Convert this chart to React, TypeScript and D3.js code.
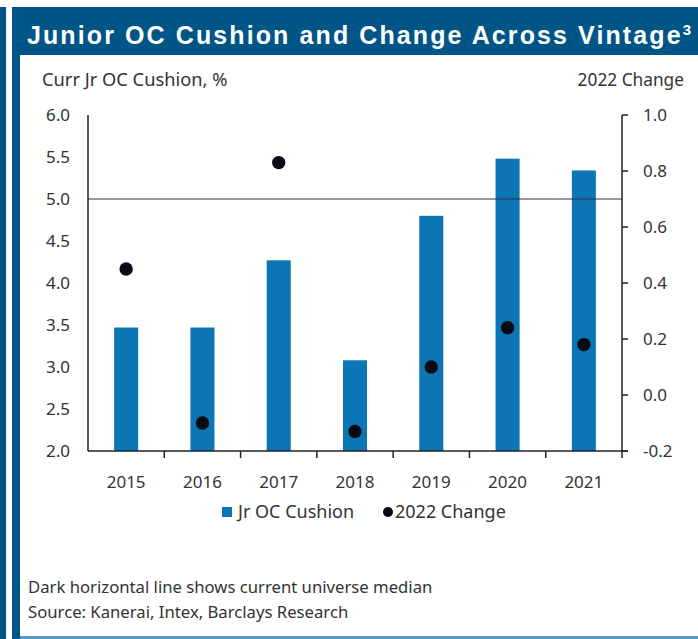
import React from "react";
import * as d3 from "d3";

const years = ["2015", "2016", "2017", "2018", "2019", "2020", "2021"];
const cushion = [3.47, 3.47, 4.27, 3.08, 4.8, 5.48, 5.34];
const change2022 = [0.45, -0.1, 0.83, -0.13, 0.1, 0.24, 0.18];
const median = 5.0;
const leftTicks = [2.0, 2.5, 3.0, 3.5, 4.0, 4.5, 5.0, 5.5, 6.0];
const rightTicks = [-0.2, 0.0, 0.2, 0.4, 0.6, 0.8, 1.0];

const W = 698;
const H = 639;
const BLUE = "#005587";
const BAR = "#0b75b5";
const TXT = "#333";
const FONT = "'Noto Sans', sans-serif";

export default function App() {
  const left = 88;
  const right = 622;
  const top = 115;
  const bottom = 451;

  const x = d3
    .scaleBand<string>()
    .domain(years)
    .range([left, right])
    .paddingInner(0.685)
    .paddingOuter(0.3425);
  const yL = d3.scaleLinear().domain([2, 6]).range([bottom, top]);
  const yR = d3.scaleLinear().domain([-0.2, 1.0]).range([bottom, top]);
  const step = x.step();
  const bw = x.bandwidth();
  const fmt = (v: number) => d3.format(".1f")(v).replace("\u2212", "-");

  const boundaries = years.slice(0, -1).map((y) => (x(y) as number) + bw / 2 + step / 2);

  return (
    <svg
      width={W}
      height={H}
      style={{ position: "absolute", left: 0, top: 0, background: "#fff" }}
      fontFamily={FONT}
    >
      {/* frame */}
      <rect x={0} y={7} width={6} height={H - 7} fill={BLUE} />
      <rect x={12} y={7} width={W - 12} height={H - 7} fill={BLUE} />
      <rect x={20} y={55} width={W - 20} height={581} fill="#fff" />
      <rect x={20} y={636} width={W - 20} height={3} fill="#5a9bc4" />
      <text
        x={27}
        y={44}
        fill="#fff"
        fontFamily="'Liberation Sans', Arial, sans-serif"
        fontWeight="bold"
        fontSize={25}
        letterSpacing={2.1}
      >
        Junior OC Cushion and Change Across Vintage
        <tspan fontSize={15} dy={-9} letterSpacing={0}>
          3
        </tspan>
      </text>

      {/* axis titles */}
      <text x={42} y={86} fontSize={18.3} fill={TXT}>
        Curr Jr OC Cushion, %
      </text>
      <text x={684} y={86} fontSize={17.3} fill={TXT} textAnchor="end">
        2022 Change
      </text>

      {/* bars */}
      {years.map((yr, i) => (
        <rect
          key={yr}
          x={x(yr)}
          y={yL(cushion[i])}
          width={bw}
          height={bottom - yL(cushion[i])}
          fill={BAR}
        />
      ))}

      {/* median line */}
      <line x1={left} x2={right} y1={yL(median)} y2={yL(median)} stroke="#333" strokeWidth={1.2} />

      {/* dots */}
      {years.map((yr, i) => (
        <circle
          key={yr}
          cx={(x(yr) as number) + bw / 2}
          cy={yR(change2022[i])}
          r={6.7}
          fill="#0a0a14"
        />
      ))}

      {/* left axis */}
      <line x1={left} x2={left} y1={top} y2={bottom} stroke="#222" strokeWidth={1.5} />
      {leftTicks.map((t) => (
        <text key={t} x={70} y={yL(t)} dy="0.35em" fontSize={17} fill={TXT} textAnchor="end">
          {fmt(t)}
        </text>
      ))}

      {/* right axis */}
      <line x1={right} x2={right} y1={top} y2={bottom} stroke="#222" strokeWidth={1.5} />
      {rightTicks.map((t) => (
        <g key={t}>
          <line x1={right} x2={right + 6} y1={yR(t)} y2={yR(t)} stroke="#222" strokeWidth={1.5} />
          <text x={643} y={yR(t)} dy="0.35em" fontSize={17} fill={TXT}>
            {fmt(t)}
          </text>
        </g>
      ))}

      {/* bottom axis */}
      <line x1={left} x2={right + 6} y1={bottom} y2={bottom} stroke="#222" strokeWidth={1.5} />
      {boundaries.map((b, i) => (
        <line key={i} x1={b} x2={b} y1={bottom} y2={bottom + 7} stroke="#222" strokeWidth={1.5} />
      ))}
      <line x1={right} x2={right} y1={bottom} y2={bottom + 7} stroke="#222" strokeWidth={1.5} />
      {years.map((yr) => (
        <text
          key={yr}
          x={(x(yr) as number) + bw / 2}
          y={488}
          fontSize={17}
          fill={TXT}
          textAnchor="middle"
        >
          {yr}
        </text>
      ))}

      {/* legend */}
      <rect x={222} y={507} width={10} height={10} fill={BAR} />
      <text x={238} y={518} fontSize={18} fill={TXT}>
        Jr OC Cushion
      </text>
      <circle cx={388} cy={512} r={5} fill="#0a0a14" />
      <text x={395} y={518} fontSize={18} fill={TXT}>
        2022 Change
      </text>

      {/* footer */}
      <text x={28} y={593} fontSize={16.7} fill={TXT}>
        Dark horizontal line shows current universe median
      </text>
      <text x={28} y={618} fontSize={16.7} fill={TXT}>
        Source: Kanerai, Intex, Barclays Research
      </text>
    </svg>
  );
}
